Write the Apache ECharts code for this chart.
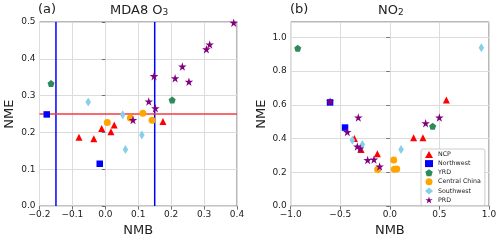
<!DOCTYPE html>
<html><head><meta charset="utf-8">
<script src="https://cdn.jsdelivr.net/npm/echarts@6/dist/echarts.min.js"></script>
<style>html,body{margin:0;padding:0;background:#fff}#c{width:500px;height:242px}</style>
</head><body><div id="c"></div>
<script>
// Region names
const regions = ['NCP', 'Northwest', 'YRD', 'Central China', 'Southwest', 'PRD'];
// Panel (a) MDA8 O3: [NMB, NME]
const ncpA = [[-0.080,0.187],[-0.035,0.183],[-0.011,0.211],[0.017,0.202],[0.027,0.220],[0.175,0.230]];
const nwA  = [[-0.178,0.249],[-0.017,0.115]];
const yrdA = [[-0.165,0.333],[0.203,0.288]];
const ccA  = [[0.006,0.227],[0.076,0.239],[0.114,0.252],[0.142,0.233]];
const swA  = [[-0.052,0.283],[0.053,0.248],[0.061,0.154],[0.111,0.193]];
const prdA = [[0.390,0.498],[0.317,0.439],[0.307,0.426],[0.234,0.379],[0.212,0.347],[0.254,0.338],[0.148,0.353],[0.152,0.266],[0.132,0.284],[0.084,0.234]];
// Panel (b) NO2: [NMB, NME]
const ncpB = [[0.570,0.628],[0.240,0.404],[0.334,0.404],[-0.126,0.310],[-0.358,0.400],[-0.290,0.335]];
const nwB  = [[-0.603,0.614],[-0.452,0.465]];
const yrdB = [[-0.929,0.934],[0.432,0.473]];
const ccB  = [[-0.123,0.216],[0.039,0.273],[0.045,0.218],[0.069,0.220]];
const swB  = [[0.923,0.937],[-0.378,0.390],[-0.277,0.364],[0.113,0.335]];
const prdB = [[-0.603,0.620],[-0.318,0.525],[0.499,0.525],[0.361,0.490],[-0.429,0.439],[-0.328,0.353],[-0.300,0.341],[-0.224,0.273],[-0.160,0.276],[-0.103,0.235]];
// Reference lines for panel (a)
const nmbLimits = [-0.15, 0.15];
const nmeLimit = 0.25;

const colors = ['#ff0000','#0000ff','#2e8b57','#ffa500','#87ceeb','#800080'];
const pentagon = 'path://M0,-1 L0.951,-0.309 L0.588,0.809 L-0.588,0.809 L-0.951,-0.309 Z';
const star = 'path://M0,-1 L0.2245,-0.309 L0.951,-0.309 L0.3633,0.118 L0.5878,0.809 L0,0.382 L-0.5878,0.809 L-0.3633,0.118 L-0.951,-0.309 L-0.2245,-0.309 Z';
const symbols = ['triangle','rect',pentagon,'circle','diamond',star];
const sizes = [7,6.5,7,7,[5.5,9],8.5];
const dataA = [ncpA,nwA,yrdA,ccA,swA,prdA];
const dataB = [ncpB,nwB,yrdB,ccB,swB,prdB];

const fmt = v => (v < 0 ? '\u2212' : '') + Math.abs(v).toFixed(1);
const txt = '#222';
const frame = '#707070';
function xAx(idx, min, max, interval){
  return {gridIndex: idx, type:'value', min, max, interval,
    name:'NMB', nameLocation:'middle', nameGap:17,
    nameTextStyle:{fontSize:13, color:txt, fontFamily:'DejaVu Sans'},
    axisLine:{show:false}, axisTick:{show:true, length:3.5, lineStyle:{color:frame}},
    axisLabel:{fontSize:9, color:txt, fontFamily:'DejaVu Sans', margin:4, formatter:fmt},
    splitLine:{show:true, lineStyle:{color:'#dcdcdc', width:1}}};
}
function yAx(idx, min, max, interval, gap){
  return {gridIndex: idx, type:'value', min, max, interval,
    name:'NME', nameLocation:'middle', nameGap:gap,
    nameTextStyle:{fontSize:13, color:txt, fontFamily:'DejaVu Sans'},
    axisLine:{show:false}, axisTick:{show:true, length:3.5, lineStyle:{color:frame}},
    axisLabel:{fontSize:9, color:txt, fontFamily:'DejaVu Sans', margin:4, formatter:fmt, showMaxLabel: max===0.5},
    splitLine:{show:true, lineStyle:{color:'#dcdcdc', width:1}}};
}

const series = [];
// reference lines (panel a)
nmbLimits.forEach(v => series.push({type:'line', xAxisIndex:0, yAxisIndex:0, data:[[v,0],[v,0.5]], symbol:'none', silent:true, z:1, lineStyle:{color:'#0000ff', width:1.5}}));
series.push({type:'line', xAxisIndex:0, yAxisIndex:0, data:[[-0.2,nmeLimit],[0.4,nmeLimit]], symbol:'none', silent:true, z:1, lineStyle:{color:'#f53b3b', width:1.5}});
regions.forEach((r,i) => {
  [dataA, dataB].forEach((d,k) => {
    series.push({name:r, type:'scatter', xAxisIndex:k, yAxisIndex:k, data:d[i],
      symbol:symbols[i], symbolSize:sizes[i], z:2+i,
      itemStyle:{color:colors[i], opacity:1}});
  });
});

const mainT = {fontSize:13, fontWeight:'normal', lineHeight:14, color:txt, fontFamily:'DejaVu Sans', verticalAlign:'bottom'};
const subT = {fontSize:9, fontWeight:'normal', lineHeight:8, color:txt, fontFamily:'DejaVu Sans', verticalAlign:'bottom'};
const chart = echarts.init(document.getElementById('c'), null, {renderer:'canvas'});
chart.setOption({
  animation:false,
  backgroundColor:'#fff',
  textStyle:{fontFamily:'DejaVu Sans'},
  title:[
    {text:'(a)', left:38, top:3, padding:0, textStyle:{fontSize:13, fontWeight:'normal', color:txt, fontFamily:'DejaVu Sans'}},
    {text:'{m|MDA8 O}{s|3}', left:110, top:3, padding:0, textStyle:{fontWeight:'normal', rich:{m:mainT, s:subT}}},
    {text:'(b)', left:290, top:3, padding:0, textStyle:{fontSize:13, fontWeight:'normal', color:txt, fontFamily:'DejaVu Sans'}},
    {text:'{m|NO}{s|2}', left:378, top:3, padding:0, textStyle:{fontWeight:'normal', rich:{m:mainT, s:subT}}}
  ],
  grid:[
    {left:39.5, top:22, width:197.5, height:186.7, show:true, borderColor:frame, borderWidth:1, backgroundColor:'transparent', containLabel:false},
    {left:290.7, top:22, width:198.3, height:186.7, show:true, borderColor:frame, borderWidth:1, backgroundColor:'transparent', containLabel:false}
  ],
  xAxis:[xAx(0,-0.2,0.4,0.1), xAx(1,-1,1,0.5)],
  yAxis:[yAx(0,0,0.5,0.1,23), yAx(1,0,1.09,0.2,23)],
  legend:{data:regions, orient:'vertical', left:421, top:149, padding:[2,4,2,4],
    itemWidth:8, itemHeight:7, itemGap:2.1, itemTextGap:5,
    backgroundColor:'#fff', borderColor:'#cccccc', borderWidth:1, borderRadius:2,
    textStyle:{fontSize:6.3, color:txt, fontFamily:'DejaVu Sans', lineHeight:7}},
  series
});
</script></body></html>
